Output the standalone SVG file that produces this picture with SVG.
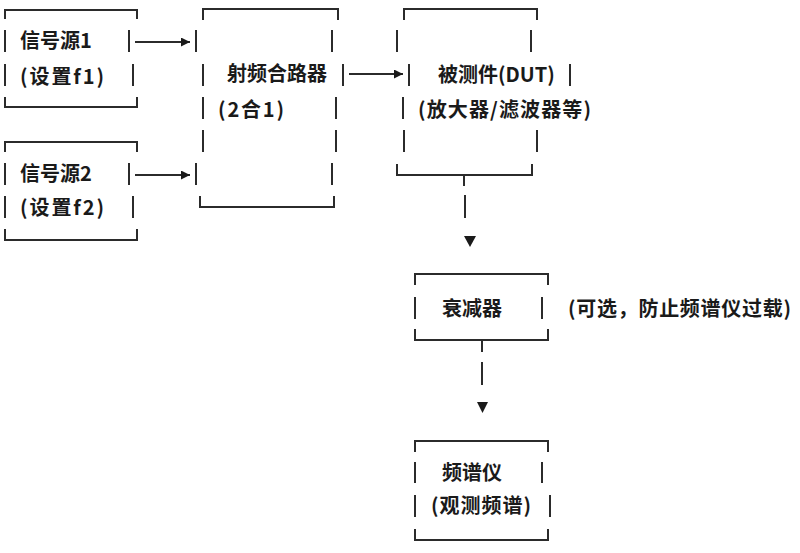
<svg xmlns="http://www.w3.org/2000/svg" width="800" height="553" viewBox="0 0 800 553">
<style>
.b{stroke:#2b2b2b;stroke-width:2;fill:none;stroke-linecap:butt}
.t{font-family:"Noto Sans CJK SC","Noto Sans",sans-serif;font-size:20px;font-weight:bold;fill:#1a1a1a}
.h{fill:#1a1a1a}
</style>
<defs>
<marker id="ah" viewBox="0 0 10 10" refX="10" refY="5" markerWidth="10" markerHeight="9" markerUnits="userSpaceOnUse" orient="auto">
<path d="M0,0 L10,5 L0,10 z" class="h"/>
</marker>
</defs>
<rect width="800" height="553" fill="#ffffff"/>
<g id="source1">
<path class="b" d="M5,19 V10 H137 V19 M5,97 V107 H137 V97 M5,30 V52 M129,30 V52 M5,64 V86 M133,64 V86"/>
<text class="t" x="20" y="48">信号源1</text>
<text class="t" x="20" y="84" textLength="84" lengthAdjust="spacing">(设置f1)</text>
</g>
<g id="source2">
<path class="b" d="M5,152 V142 H137 V152 M5,229 V240 H137 V229 M5,163 V185 M129,163 V185 M5,196 V218 M133,196 V218"/>
<text class="t" x="20" y="181">信号源2</text>
<text class="t" x="20" y="215" textLength="84" lengthAdjust="spacing">(设置f2)</text>
</g>
<g id="combiner">
<path class="b" d="M203,20 V9 H338 V20 M200,196 V207 H334 V196 M196,30 V52 M332,30 V52 M203,64 V86 M343,64 V86 M203,97 V119 M336,97 V119 M203,130 V152 M336,130 V152 M196,163 V185 M332,163 V185"/>
<text class="t" x="227" y="81">射频合路器</text>
<text class="t" x="218" y="117" textLength="66" lengthAdjust="spacing">(2合1)</text>
</g>
<g id="dut">
<path class="b" d="M404,20 V9 H537 V20 M397,164 V175 H532 V164 M397,30 V52 M531,30 V52 M409,64 V86 M570,64 V86 M403,97 V119 M404,130 V152 M537,130 V152"/>
<text class="t" x="438" y="82">被测件(DUT)</text>
<text class="t" x="418" y="117" textLength="173" lengthAdjust="spacing">(放大器/滤波器等)</text>
</g>
<g id="attenuator">
<path class="b" d="M415,285 V274 H548 V285 M415,329 V340 H548 V329 M415,297 V319 M542,297 V319"/>
<text class="t" x="442" y="316">衰减器</text>
<text class="t" x="568" y="316" textLength="223" lengthAdjust="spacing">(可选，防止频谱仪过载)</text>
</g>
<g id="analyzer">
<path class="b" d="M415,452 V441 H548 V452 M415,529 V540 H548 V529 M415,462 V483 M542,462 V483 M415,495 V517 M550,495 V517"/>
<text class="t" x="442" y="480">频谱仪</text>
<text class="t" x="431" y="513" textLength="100" lengthAdjust="spacing">(观测频谱)</text>
</g>
<g id="connectors">
<line class="b" x1="135" y1="42" x2="190" y2="42" marker-end="url(#ah)"/>
<line class="b" x1="135" y1="175" x2="190" y2="175" marker-end="url(#ah)"/>
<line class="b" x1="349" y1="74" x2="403" y2="74" marker-end="url(#ah)"/>
<path class="b" d="M464,175 V186 M465,195 V218"/>
<path class="h" d="M464,236 L476,236 L470,247 z"/>
<path class="b" d="M482,340 V352 M482,362 V385"/>
<path class="h" d="M477,402 L488,402 L482.5,413 z"/>
</g>
</svg>
